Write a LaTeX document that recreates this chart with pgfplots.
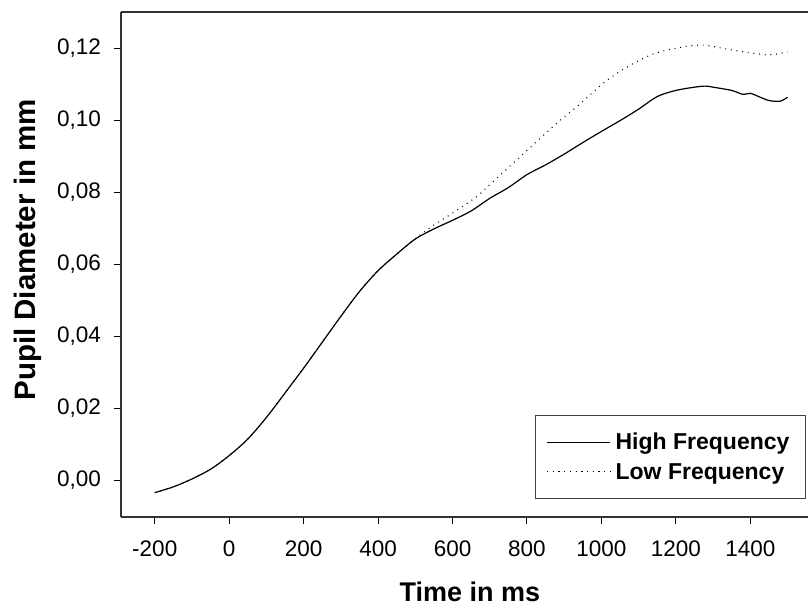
\documentclass[border=0pt]{standalone}
\usepackage{fontspec}
\setmainfont{Liberation Sans}
\usepackage{pgfplots}
\pgfplotsset{compat=1.18}
\begin{document}
\begin{tikzpicture}
\begin{axis}[
  scale only axis,
  width=687pt, height=505pt,
  xmin=-290.7, xmax=1555,
  ymin=-0.01028, ymax=0.1301,
  axis x line*=box, axis y line*=left,
  axis line style={-, black!80, line width=1.2pt},
  xtick pos=left, ytick pos=left,
  tick align=outside,
  major tick length=7pt,
  tick style={black, line width=1pt},
  xtick={-200,0,200,400,600,800,1000,1200,1400},
  ytick={0,0.02,0.04,0.06,0.08,0.1,0.12},
  scaled y ticks=false,
  /pgf/number format/assume math mode=true,
  xticklabel style={font=\fontsize{22.5}{26}\selectfont, anchor=center, inner sep=0pt, yshift=-25pt, /pgf/number format/1000 sep={}},
  yticklabel style={font=\fontsize{22.5}{26}\selectfont, anchor=east, inner sep=0pt, xshift=-13pt, /pgf/number format/.cd, fixed, fixed zerofill, precision=2, use comma},
  xlabel={Time in ms},
  ylabel={Pupil Diameter in mm},
  every axis x label/.style={at={(axis description cs:0.508,-0.148)}, anchor=center, inner sep=0pt, font=\bfseries\fontsize{27}{32}\selectfont},
  every axis y label/.style={at={(axis description cs:-0.1354,0.529)}, rotate=90, anchor=center, inner sep=0pt, font=\bfseries\fontsize{29.5}{34}\selectfont},
  legend style={at={(0.997,0.0356)}, anchor=south east, draw=black!75, line width=1pt,
    font=\bfseries\fontsize{23}{28}\selectfont, inner xsep=11pt, inner ysep=16pt, row sep=8pt,
    /tikz/every even column/.append style={column sep=0pt}},
  legend cell align=left,
  legend image code/.code={\path (-6pt,0pt) -- (57pt,0pt); \draw[#1] (0pt,0pt) -- (53pt,0pt);},
  legend style={nodes={inner xsep=5pt}},
]
\addplot[black, line width=1.2pt, smooth] coordinates {
(-200,-0.0035) (-150,-0.0019) (-100,0.0003) (-50,0.0030) (0,0.0068) (50,0.0114)
(100,0.0174) (150,0.0242) (200,0.0311) (250,0.0383) (300,0.0455) (350,0.0524)
(400,0.0582) (450,0.0628) (500,0.0670) (550,0.0698) (600,0.0722) (650,0.0748)
(700,0.0783) (750,0.0813) (800,0.0849) (850,0.0876) (900,0.0906) (950,0.0938)
(1000,0.0969) (1050,0.0999) (1100,0.1031) (1150,0.1066) (1200,0.1083) (1250,0.1092)
(1280,0.1095) (1300,0.1092) (1350,0.1083) (1380,0.1072) (1400,0.1075) (1420,0.1067)
(1450,0.1055) (1480,0.1053) (1500,0.1064)
};
\addlegendentry{High Frequency}
\addplot[black, line width=1.1pt, dash pattern=on 0.9pt off 4.8pt, smooth] coordinates {
(-200,-0.0035) (-150,-0.0019) (-100,0.0003) (-50,0.0030) (0,0.0068) (50,0.0114)
(100,0.0174) (150,0.0242) (200,0.0311) (250,0.0383) (300,0.0455) (350,0.0524)
(400,0.0582) (450,0.0628) (500,0.0671) (550,0.0709) (600,0.0742) (664,0.0787)
(700,0.0821) (740,0.0859) (800,0.0916) (879,0.0991) (941,0.1044) (1006,0.1104)
(1050,0.1136) (1100,0.1166) (1150,0.1188) (1219,0.1204) (1273,0.1209) (1326,0.1200)
(1353,0.1195) (1398,0.1188) (1443,0.1182) (1470,0.1184) (1500,0.1190)
};
\addlegendentry{Low Frequency}
\end{axis}
\pgfresetboundingbox
\path[use as bounding box] (-121pt,-89pt) rectangle (688pt,517pt);
\end{tikzpicture}
\end{document}
